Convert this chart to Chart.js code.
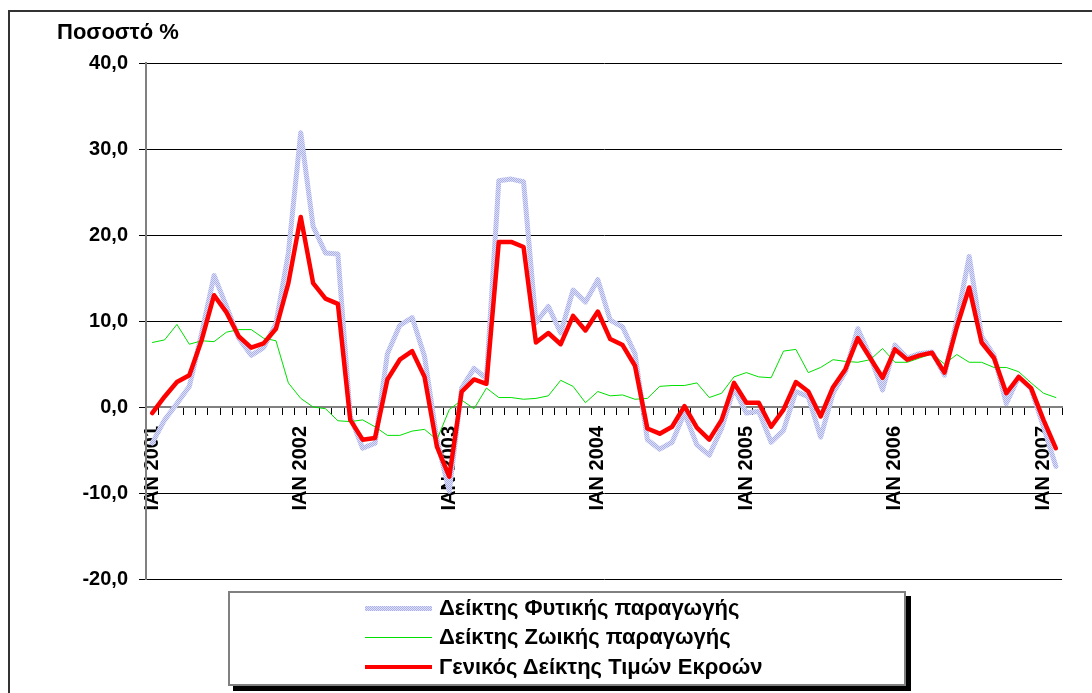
<!DOCTYPE html>
<html>
<head>
<meta charset="utf-8">
<script src="https://cdn.jsdelivr.net/npm/chart.js@4"></script>
<style>
  body { margin: 0; background: #fff; }
  #wrap { position: relative; width: 1092px; height: 693px; overflow: hidden; }
  #legend {
    position: absolute; left: 228px; top: 591px; width: 674px; height: 91px;
    border: 2px solid #808080; background: #fff; box-shadow: 5px 5px 0 #000;
    font-family: "Liberation Sans", Arial, sans-serif; font-size: 22px; font-weight: 700; color: #000;
  }
  .item { position: absolute; left: 135px; height: 26px; display: flex; align-items: center; white-space: nowrap; }
  .sample { width: 67px; margin-right: 7px; }
</style>
</head>
<body>
<div id="wrap">
  <canvas id="chart" width="1092" height="693"></canvas>
  <div id="legend"></div>
</div>
<script>
// monthly values, ΙΑΝ 2001 .. ΦΕΒ 2007
const years = [2001, 2002, 2003, 2004, 2005, 2006, 2007];
const lastYearMonths = 2;
const yearTickLabels = ["ΙΑΝ 2001", "ΙΑΝ 2002", "ΙΑΝ 2003", "ΙΑΝ 2004", "ΙΑΝ 2005", "ΙΑΝ 2006", "ΙΑΝ 2007"];

const plantIndex = [
  -4.2, -1.5, 0.4, 2.4, 8.6, 15.3, 11.7, 8.0, 6.0, 6.9, 9.7, 17.9,
  31.9, 21.0, 17.9, 17.8, -1.1, -4.8, -4.2, 6.2, 9.5, 10.4, 5.9, -3.8,
  -9.8, 2.2, 4.5, 3.3, 26.3, 26.5, 26.2, 9.8, 11.7, 8.6, 13.6, 12.2,
  14.8, 10.1, 9.3, 6.2, -3.8, -4.9, -4.1, -0.7, -4.4, -5.6, -2.5, 2.2,
  -0.7, -0.5, -4.1, -2.7, 1.8, 1.2, -3.5, 1.6, 4.1, 9.1, 5.9, 2.0,
  7.2, 5.7, 6.2, 6.4, 3.7, 10.1, 17.5, 8.2, 6.0, 0.4, 3.5, 2.1,
  -2.3, -6.9
];
const animalIndex = [
  7.5, 7.8, 9.6, 7.3, 7.7, 7.6, 8.7, 9.0, 9.0, 8.0, 7.7, 2.8,
  1.0, 0.0, -0.2, -1.6, -1.7, -1.5, -2.3, -3.3, -3.3, -2.8, -2.6, -3.8,
  -0.3, 0.8, -0.2, 2.2, 1.1, 1.1, 0.9, 1.0, 1.3, 3.1, 2.4, 0.5,
  1.8, 1.3, 1.4, 0.9, 1.0, 2.4, 2.5, 2.5, 2.8, 1.1, 1.6, 3.5,
  4.0, 3.5, 3.4, 6.5, 6.7, 4.0, 4.6, 5.5, 5.3, 5.2, 5.5, 6.8,
  5.2, 5.2, 5.7, 6.2, 5.0, 6.1, 5.2, 5.2, 4.6, 4.6, 4.1, 2.8,
  1.6, 1.1
];
const generalIndex = [
  -0.7, 1.2, 2.9, 3.7, 7.8, 13.0, 11.0, 8.2, 6.9, 7.4, 9.1, 14.4,
  22.1, 14.4, 12.6, 12.0, -1.5, -3.8, -3.6, 3.2, 5.5, 6.5, 3.5, -4.6,
  -8.1, 1.8, 3.2, 2.7, 19.2, 19.2, 18.6, 7.5, 8.6, 7.3, 10.6, 8.9,
  11.1, 7.9, 7.2, 4.8, -2.5, -3.1, -2.3, 0.1, -2.4, -3.8, -1.5, 2.8,
  0.5, 0.5, -2.3, -0.3, 2.9, 1.8, -1.1, 2.3, 4.4, 8.0, 5.7, 3.4,
  6.7, 5.5, 6.0, 6.3, 4.0, 9.3, 13.9, 7.5, 5.7, 1.6, 3.5, 2.2,
  -1.5, -4.8
];

const seriesNames = ["Δείκτης Φυτικής παραγωγής", "Δείκτης Ζωικής παραγωγής", "Γενικός Δείκτης Τιμών Εκροών"];
const yTitle = "Ποσοστό %";

// category labels: one per month, year label on each January
const months = [];
years.forEach((y, k) => {
  const n = y === years[years.length - 1] ? lastYearMonths : 12;
  for (let m = 0; m < n; m++) months.push(m === 0 ? yearTickLabels[k] : "");
});

// hatched lavender stroke like the Excel pattern line
function hatch() {
  const c = document.createElement("canvas");
  c.width = 2; c.height = 2;
  const g = c.getContext("2d");
  g.fillStyle = "#dde0f8"; g.fillRect(0, 0, 2, 2);
  g.fillStyle = "#a9b0ea"; g.fillRect(0, 0, 1, 1); g.fillRect(1, 1, 1, 1);
  return g.createPattern(c, "repeat");
}
const plantStroke = hatch();

const FONT = "'Liberation Sans', Arial, sans-serif";

const frameAndTitle = {
  id: "frameAndTitle",
  beforeDraw(chart) {
    const ctx = chart.ctx;
    ctx.save();
    ctx.fillStyle = "#fff";
    ctx.fillRect(0, 0, chart.width, chart.height);
    ctx.strokeStyle = "#333";
    ctx.lineWidth = 2;
    ctx.strokeRect(9, 11, chart.width + 20, chart.height + 20);
    ctx.restore();
  },
  afterDraw(chart) {
    const ctx = chart.ctx;
    ctx.save();
    ctx.font = "bold 22px " + FONT;
    ctx.fillStyle = "#000";
    ctx.textBaseline = "alphabetic";
    ctx.fillText(yTitle, 57, 39);
    ctx.restore();
  }
};

const chart = new Chart(document.getElementById("chart"), {
  type: "line",
  data: {
    labels: months,
    datasets: [
      {
        label: seriesNames[0],
        data: plantIndex,
        borderColor: plantStroke,
        borderWidth: 5,
        order: 3,
      },
      {
        label: seriesNames[1],
        data: animalIndex,
        borderColor: "#00e000",
        borderWidth: 1,
        order: 2,
      },
      {
        label: seriesNames[2],
        data: generalIndex,
        borderColor: "#ff0000",
        borderWidth: 4.5,
        order: 1,
      },
    ],
  },
  options: {
    responsive: false,
    animation: false,
    events: [],
    elements: {
      point: { radius: 0 },
      line: { tension: 0, borderJoinStyle: "round", borderCapStyle: "round" },
    },
    layout: { padding: { left: 0, top: 63, right: 21, bottom: 114 } },
    plugins: {
      legend: { display: false },
      title: { display: false },
      tooltip: { enabled: false },
    },
    scales: {
      x: {
        type: "category",
        position: { y: 0 },
        offset: true,
        grid: { drawOnChartArea: false, drawTicks: true, tickLength: 7, tickColor: "#000", offset: true },
        border: { display: true, color: "#808080", width: 2 },
        ticks: {
          autoSkip: false,
          maxRotation: 90,
          minRotation: 90,
          padding: 12,
          color: "#000",
          font: { family: FONT, size: 20, weight: "bold" },
        },
      },
      y: {
        min: -20,
        max: 40,
        afterFit(scale) { scale.width = 146; },
        grid: { color: "#000", lineWidth: 1, tickLength: 7, tickColor: "#000" },
        border: { display: true, color: "#808080", width: 2 },
        ticks: {
          stepSize: 10,
          padding: 11,
          color: "#000",
          font: { family: FONT, size: 20, weight: "bold" },
          callback: v => v.toFixed(1).replace(".", ","),
        },
      },
    },
  },
  plugins: [frameAndTitle],
});

// legend built from the datasets
const legend = document.getElementById("legend");
const rowTops = [2, 31, 61];
chart.data.datasets.forEach((ds, i) => {
  const item = document.createElement("div");
  item.className = "item";
  item.style.top = rowTops[i] + "px";
  const s = document.createElement("span");
  s.className = "sample";
  if (i === 0) {
    s.style.height = "5px";
    s.style.background = "repeating-conic-gradient(#a9b0ea 0 25%, #dde0f8 0 50%) 0 0 / 2px 2px";
  } else {
    s.style.height = ds.borderWidth + "px";
    s.style.background = ds.borderColor;
  }
  const t = document.createElement("span");
  t.textContent = ds.label;
  item.appendChild(s);
  item.appendChild(t);
  legend.appendChild(item);
});
</script>
</body>
</html>
